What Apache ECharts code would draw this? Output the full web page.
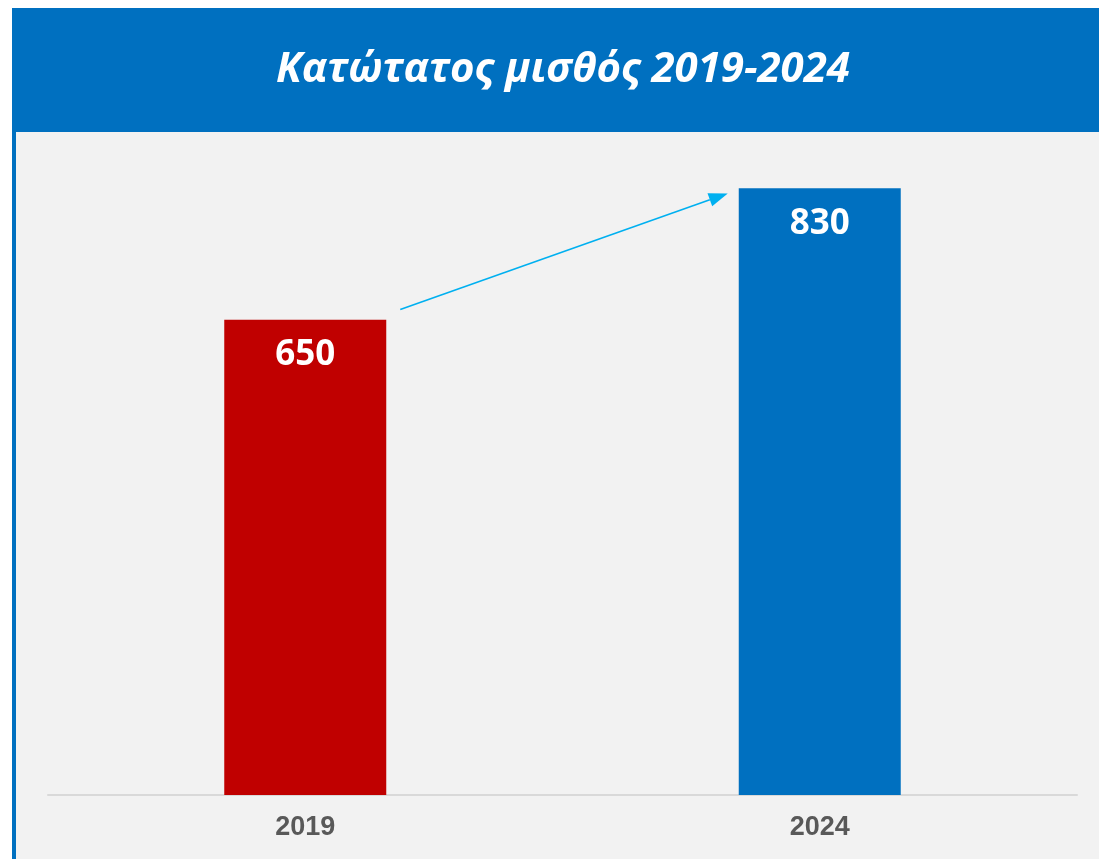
<!DOCTYPE html>
<html><head><meta charset="utf-8">
<script src="https://cdn.jsdelivr.net/npm/echarts@6/dist/echarts.min.js"></script>
<style>html,body{margin:0;padding:0;background:#fff}#c{width:1099px;height:859px}</style>
</head><body><div id="c"></div>
<script>
const titleText = 'Κατώτατος μισθός 2019-2024';
const categories = ['2019', '2024'];
const values = [650, 830];
const barColors = ['#C00000', '#0070C0'];
// arrow annotation endpoints (value-axis levels)
const arrowLevels = [664, 823];

const chart = echarts.init(document.getElementById('c'), null, {renderer: 'canvas'});
const option = {
  backgroundColor: '#ffffff',
  animation: false,
  graphic: [
    {type: 'rect', id: 'bg', z: -10, shape: {x: 16, y: 132, width: 1083, height: 727}, style: {fill: '#F2F2F2'}},
    {type: 'rect', id: 'band', z: -9, shape: {x: 12, y: 8, width: 1087, height: 124}, style: {fill: '#0070C0'}},
    {type: 'rect', id: 'lborder', z: -9, shape: {x: 12, y: 132, width: 4, height: 727}, style: {fill: '#0070C0'}},
    {type: 'text', id: 'title', z: 10, x: 563, y: 70,
      style: {text: titleText, fill: '#ffffff', align: 'center', verticalAlign: 'middle', font: 'italic bold 42px "Open Sans", "Noto Sans", sans-serif'}}
  ],
  grid: {left: 48, right: 22, top: 64, bottom: 64, containLabel: false},
  xAxis: {
    type: 'category', data: categories,
    axisLine: {lineStyle: {color: '#D9D9D9', width: 2}},
    axisTick: {show: false},
    axisLabel: {color: '#595959', fontSize: 27, fontWeight: 'bold', fontFamily: '"Liberation Sans", Arial, sans-serif', margin: 19}
  },
  yAxis: {type: 'value', min: 0, max: 1000, show: false, splitLine: {show: false}},
  series: [{
    type: 'bar', barWidth: 162,
    data: values.map((v, i) => ({value: v, itemStyle: {color: barColors[i]}})),
    label: {show: true, position: 'insideTop', distance: 18, color: '#ffffff', fontSize: 35, fontWeight: 'bold', fontFamily: '"Open Sans", "Noto Sans", sans-serif'}
  }]
};
chart.setOption(option);

const p0 = chart.convertToPixel({gridIndex: 0}, [categories[0], arrowLevels[0]]);
const p1 = chart.convertToPixel({gridIndex: 0}, [categories[1], arrowLevels[1]]);
const half = 162 / 2;
const x0 = p0[0] + half + 14, y0 = p0[1];
const x1 = p1[0] - half - 11, y1 = p1[1];
const ang = Math.atan2(y1 - y0, x1 - x0);
const L = 19, W = 7;
const bx = x1 - L * Math.cos(ang), by = y1 - L * Math.sin(ang);
const nx = -Math.sin(ang), ny = Math.cos(ang);
chart.setOption({graphic: [
  {type: 'line', id: 'arrowLine', z: 20, shape: {x1: x0, y1: y0, x2: bx, y2: by}, style: {stroke: '#00B0F0', lineWidth: 1.6}},
  {type: 'polygon', id: 'arrowHead', z: 20, shape: {points: [[x1, y1], [bx + nx * W, by + ny * W], [bx - nx * W, by - ny * W]]}, style: {fill: '#00B0F0'}}
]});
</script></body></html>
